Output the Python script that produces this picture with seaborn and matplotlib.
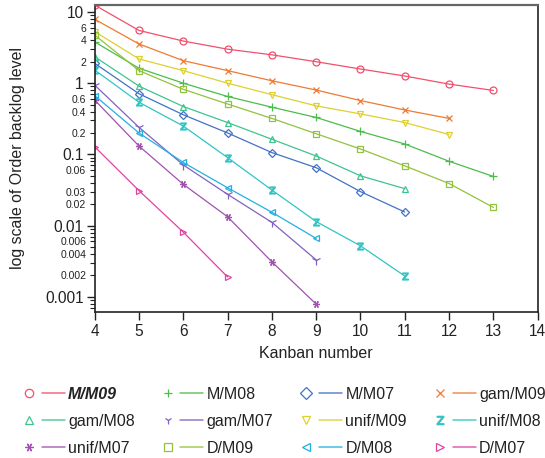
import numpy as np
import pandas as pd
import matplotlib
matplotlib.use("Agg")
import matplotlib.pyplot as plt
import seaborn as sns
from matplotlib.lines import Line2D
from matplotlib.legend_handler import HandlerTuple
from matplotlib.ticker import FixedLocator, FixedFormatter

# ---------------- data ----------------
series_names = ["M/M09", "M/M08", "M/M07", "gam/M09", "gam/M08", "gam/M07",
                "unif/M09", "unif/M08", "unif/M07", "D/M09", "D/M08", "D/M07"]

kanban_m_m09 = [4, 5, 6, 7, 8, 9, 10, 11, 12, 13]
level_m_m09 = [12.5, 5.5, 3.9, 3.0, 2.5, 2.0, 1.58, 1.26, 0.97, 0.79]

kanban_m_m08 = [4, 5, 6, 7, 8, 9, 10, 11, 12, 13]
level_m_m08 = [3.8, 1.62, 1.0, 0.65, 0.46, 0.33, 0.21, 0.14, 0.08, 0.049]

kanban_m_m07 = [4, 5, 6, 7, 8, 9, 10, 11]
level_m_m07 = [1.9, 0.71, 0.36, 0.20, 0.106, 0.065, 0.030, 0.0155]

kanban_gam_m09 = [4, 5, 6, 7, 8, 9, 10, 11, 12]
level_gam_m09 = [7.9, 3.55, 2.07, 1.5, 1.08, 0.80, 0.57, 0.42, 0.32]

kanban_gam_m08 = [4, 5, 6, 7, 8, 9, 10, 11]
level_gam_m08 = [2.35, 0.91, 0.47, 0.28, 0.163, 0.095, 0.050, 0.033]

kanban_gam_m07 = [4, 5, 6, 7, 8, 9]
level_gam_m07 = [0.94, 0.24, 0.071, 0.0275, 0.0111, 0.0033]

kanban_unif_m09 = [4, 5, 6, 7, 8, 9, 10, 11, 12]
level_unif_m09 = [5.3, 2.19, 1.5, 1.0, 0.69, 0.48, 0.37, 0.28, 0.19]

kanban_unif_m08 = [4, 5, 6, 7, 8, 9, 10, 11]
level_unif_m08 = [1.53, 0.54, 0.25, 0.09, 0.0316, 0.0114, 0.0052, 0.00196]

kanban_unif_m07 = [4, 5, 6, 7, 8, 9]
level_unif_m07 = [0.58, 0.131, 0.038, 0.0133, 0.0031, 0.00079]

kanban_d_m09 = [4, 5, 6, 7, 8, 9, 10, 11, 12, 13]
level_d_m09 = [4.75, 1.5, 0.82, 0.51, 0.32, 0.195, 0.119, 0.069, 0.039, 0.018]

kanban_d_m08 = [4, 5, 6, 7, 8, 9]
level_d_m08 = [0.67, 0.20, 0.077, 0.034, 0.0154, 0.0066]

kanban_d_m07 = [4, 5, 6, 7]
level_d_m07 = [0.128, 0.031, 0.0081, 0.0019]

x_ticks = [4, 5, 6, 7, 8, 9, 10, 11, 12, 13, 14]
y_major_ticks = [0.001, 0.01, 0.1, 1, 10]
y_major_labels = ["0.001", "0.01", "0.1", "1", "10"]
y_minor_labelled = {0.002: "0.002", 0.004: "0.004", 0.006: "0.006",
                    0.02: "0.02", 0.03: "0.03", 0.06: "0.06",
                    0.2: "0.2", 0.4: "0.4", 0.6: "0.6",
                    2: "2", 4: "4", 6: "6"}

# ---------------- styles ----------------
colors = {"M/M09": "#f0506c", "M/M08": "#4cbc4c", "M/M07": "#4272c6",
          "gam/M09": "#f07a32", "gam/M08": "#3ec48e", "gam/M07": "#8262c0",
          "unif/M09": "#ddd030", "unif/M08": "#30c4c4", "unif/M07": "#a052ae",
          "D/M09": "#92c23e", "D/M08": "#22b0e2", "D/M07": "#e044a2"}
markers = {"M/M09": "o", "M/M08": "+", "M/M07": "D",
           "gam/M09": "x", "gam/M08": "^", "gam/M07": "1",
           "unif/M09": "v", "unif/M08": r"$\mathsf{Z}$", "unif/M07": (6, 2, 90),
           "D/M09": "s", "D/M08": "<", "D/M07": ">"}
msizes = {"M/M07": 4.2, "D/M09": 4.3, "unif/M08": 5.0, "gam/M07": 6.5,
          "M/M08": 6.0, "gam/M09": 5.0}

series_data = {
    "M/M09": (kanban_m_m09, level_m_m09), "M/M08": (kanban_m_m08, level_m_m08),
    "M/M07": (kanban_m_m07, level_m_m07), "gam/M09": (kanban_gam_m09, level_gam_m09),
    "gam/M08": (kanban_gam_m08, level_gam_m08), "gam/M07": (kanban_gam_m07, level_gam_m07),
    "unif/M09": (kanban_unif_m09, level_unif_m09), "unif/M08": (kanban_unif_m08, level_unif_m08),
    "unif/M07": (kanban_unif_m07, level_unif_m07), "D/M09": (kanban_d_m09, level_d_m09),
    "D/M08": (kanban_d_m08, level_d_m08), "D/M07": (kanban_d_m07, level_d_m07),
}

frames = []
for name in series_names:
    k, v = series_data[name]
    frames.append(pd.DataFrame({"kanban": k, "level": v, "series": name}))
df = pd.concat(frames, ignore_index=True)

sns.set_theme(style="ticks")
plt.rcParams["font.family"] = ["Liberation Sans", "DejaVu Sans"]

fig = plt.figure(figsize=(5.45, 4.58), dpi=100)
ax = fig.add_axes([0.1737, 0.3194, 0.8129, 0.6696])

for name in series_names:
    sub = df[df["series"] == name]
    c = colors[name]
    sns.lineplot(data=sub, x="kanban", y="level", ax=ax, color=c,
                 marker=markers[name], markersize=msizes.get(name, 5.0),
                 markerfacecolor="none", markeredgecolor=c, markeredgewidth=0.9,
                 linewidth=0.9, legend=False, errorbar=None)

ax.set_yscale("log")
ax.set_xlim(4, 14)
ax.set_ylim(0.000618, 12.5)
ax.set_xticks(x_ticks)
ax.set_xticklabels([str(t) for t in x_ticks])

ax.yaxis.set_major_locator(FixedLocator(y_major_ticks))
ax.yaxis.set_major_formatter(FixedFormatter(y_major_labels))
minor_vals = []
for e in range(-4, 2):
    for m in range(2, 10):
        val = round(m * 10.0 ** e, 6)
        if 0.000618 <= val <= 12.5:
            minor_vals.append(val)
minor_labels = [y_minor_labelled.get(v, "") for v in minor_vals]
ax.yaxis.set_minor_locator(FixedLocator(minor_vals))
ax.yaxis.set_minor_formatter(FixedFormatter(minor_labels))

ax.tick_params(axis="y", which="major", labelsize=11.2, length=5.8, width=1.0,
               direction="out", pad=2, colors="#222222")
ax.tick_params(axis="y", which="minor", labelsize=7.5, length=3.6, width=0.8,
               direction="out", pad=2.5, colors="#222222")
ax.tick_params(axis="x", which="major", labelsize=11.2, length=5.8, width=1.0,
               direction="out", pad=3, colors="#222222")
ax.tick_params(axis="x", which="minor", bottom=False)

for side in ["left", "bottom", "right"]:
    ax.spines[side].set_visible(True)
    ax.spines[side].set_color("#222222")
    ax.spines[side].set_linewidth(1.2)
ax.spines["top"].set_visible(True)
ax.spines["top"].set_color("#666666")
ax.spines["top"].set_linewidth(1.6)

ax.set_xlabel("Kanban number", fontsize=11.5, color="#222222")
ax.set_ylabel("log scale of Order backlog level", fontsize=11.4, color="#222222")
ax.xaxis.set_label_coords(0.5, -0.113)
ax.yaxis.set_label_coords(-0.158, 0.5)

# ---------------- legend: marker, then line, then text ----------------
handles = []
for name in series_names:
    c = colors[name]
    mk = Line2D([], [], linestyle="none", marker=markers[name], markersize=6.0,
                markerfacecolor="none", markeredgecolor=c, markeredgewidth=0.9)
    ln = Line2D([], [], color=c, linewidth=1.1, alpha=0.85)
    handles.append((mk, ln))

# order rows-first (4 columns x 3 rows) -> matplotlib fills column-first
order = []
for col in range(4):
    for row in range(3):
        order.append(row * 4 + col)
leg = fig.legend([handles[i] for i in order], [series_names[i] for i in order],
                 handler_map={tuple: HandlerTuple(ndivide=None, pad=0.075)},
                 ncol=4, loc="upper left", bbox_to_anchor=(0.032, 0.156),
                 frameon=False, fontsize=11.5, handlelength=2.95,
                 handletextpad=0.21, columnspacing=1.35, labelspacing=0.76,
                 borderpad=0, borderaxespad=0)
for t in leg.get_texts():
    t.set_color("#222222")
    if t.get_text() == "M/M09":
        t.set_fontweight("bold")
        t.set_fontstyle("italic")

fig.savefig("out.png", dpi=100)
